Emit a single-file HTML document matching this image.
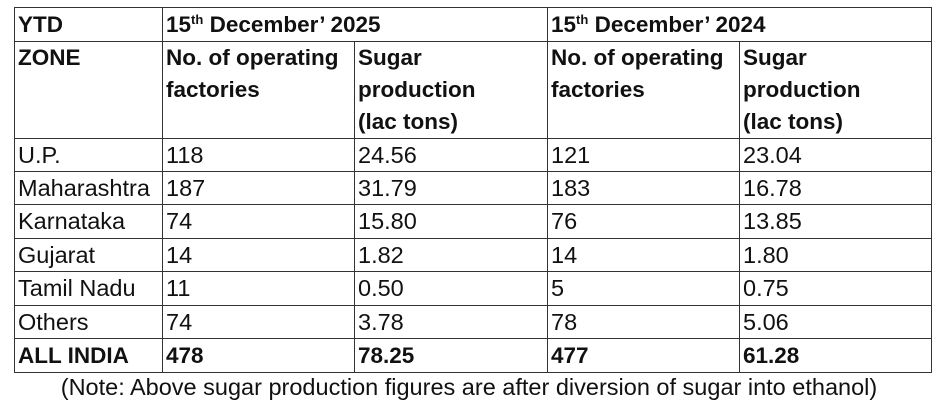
<!DOCTYPE html>
<html><head><style>
body{margin:0;width:938px;height:412px;background:#fff;position:relative;font-family:"Liberation Sans",sans-serif;color:#111;overflow:hidden}
.h{position:absolute;left:14px;width:918px;height:0;border-top:1.5px solid #333}
.v{position:absolute;top:7px;height:365px;width:0;border-left:1.5px solid #333}
.t{position:absolute;font-size:23.5px;line-height:33px;white-space:nowrap}
.b{font-weight:bold;font-size:22.5px}
sup{font-size:13px;vertical-align:8px;line-height:0}
</style></head><body>
<div class="h" style="top:7px"></div>
<div class="h" style="top:41px;"></div>
<div class="h" style="top:138px"></div><div class="h" style="top:171px"></div>
<div class="h" style="top:204px"></div><div class="h" style="top:238px"></div>
<div class="h" style="top:271px"></div><div class="h" style="top:305px"></div>
<div class="h" style="top:338px"></div><div class="h" style="top:372px"></div>
<div class="v" style="left:14px"></div><div class="v" style="left:162px"></div>
<div class="v" style="left:354px;top:41px;height:331px"></div><div class="v" style="left:547px"></div>
<div class="v" style="left:739px;top:41px;height:331px"></div><div class="v" style="left:931px"></div>
<div class="t b" style="left:18px;top:8px">YTD</div>
<div class="t b" style="left:166px;top:8px">15<sup>th</sup> December’ 2025</div>
<div class="t b" style="left:551px;top:8px">15<sup>th</sup> December’ 2024</div>
<div class="t b" style="left:18px;top:42px;line-height:32px">ZONE</div>
<div class="t b" style="left:166px;top:42px;line-height:32px">No. of operating<br>factories</div>
<div class="t b" style="left:358px;top:42px;line-height:32px">Sugar<br>production<br>(lac tons)</div>
<div class="t b" style="left:551px;top:42px;line-height:32px">No. of operating<br>factories</div>
<div class="t b" style="left:743px;top:42px;line-height:32px">Sugar<br>production<br>(lac tons)</div>

<div class="t" style="left:18px;top:139px">U.P.</div><div class="t" style="left:166px;top:139px">118</div><div class="t" style="left:358px;top:139px">24.56</div><div class="t" style="left:551px;top:139px">121</div><div class="t" style="left:743px;top:139px">23.04</div>
<div class="t" style="left:18px;top:172px">Maharashtra</div><div class="t" style="left:166px;top:172px">187</div><div class="t" style="left:358px;top:172px">31.79</div><div class="t" style="left:551px;top:172px">183</div><div class="t" style="left:743px;top:172px">16.78</div>
<div class="t" style="left:18px;top:205px">Karnataka</div><div class="t" style="left:166px;top:205px">74</div><div class="t" style="left:358px;top:205px">15.80</div><div class="t" style="left:551px;top:205px">76</div><div class="t" style="left:743px;top:205px">13.85</div>
<div class="t" style="left:18px;top:239px">Gujarat</div><div class="t" style="left:166px;top:239px">14</div><div class="t" style="left:358px;top:239px">1.82</div><div class="t" style="left:551px;top:239px">14</div><div class="t" style="left:743px;top:239px">1.80</div>
<div class="t" style="left:18px;top:272px">Tamil Nadu</div><div class="t" style="left:166px;top:272px">11</div><div class="t" style="left:358px;top:272px">0.50</div><div class="t" style="left:551px;top:272px">5</div><div class="t" style="left:743px;top:272px">0.75</div>
<div class="t" style="left:18px;top:306px">Others</div><div class="t" style="left:166px;top:306px">74</div><div class="t" style="left:358px;top:306px">3.78</div><div class="t" style="left:551px;top:306px">78</div><div class="t" style="left:743px;top:306px">5.06</div>
<div class="t b" style="left:18px;top:339px">ALL INDIA</div><div class="t b" style="left:166px;top:339px">478</div><div class="t b" style="left:358px;top:339px">78.25</div><div class="t b" style="left:551px;top:339px">477</div><div class="t b" style="left:743px;top:339px">61.28</div>
<div class="t" style="left:0;width:938px;text-align:center;top:371px;font-size:23.5px">(Note: Above sugar production figures are after diversion of sugar into ethanol)</div>
</body></html>
